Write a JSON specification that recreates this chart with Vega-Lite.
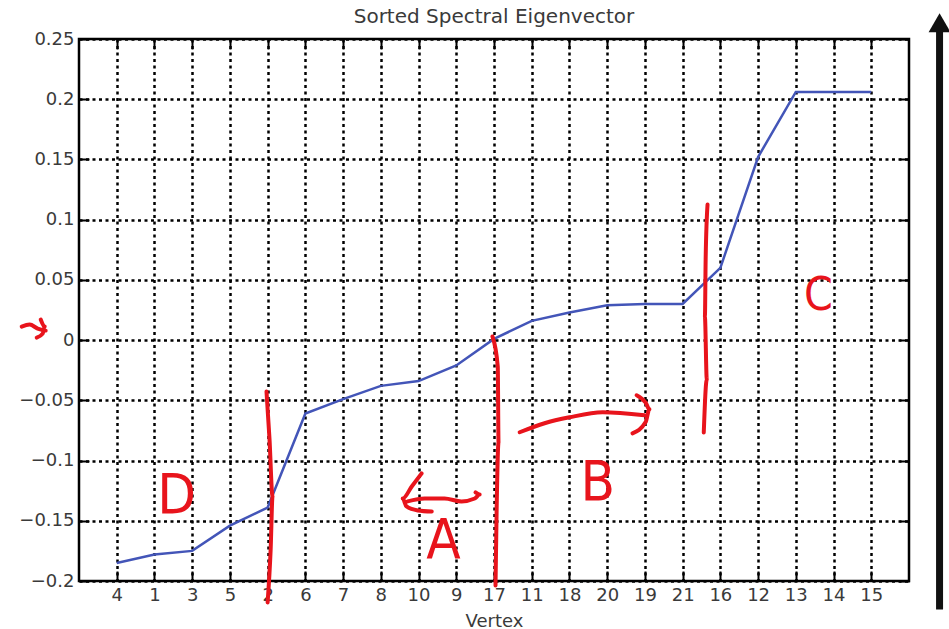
{
  "$schema": "https://vega.github.io/schema/vega-lite/v6.json",
  "width": 830,
  "height": 542,
  "autosize": {"type": "none"},
  "padding": {"left": 79, "top": 39, "right": 40, "bottom": 48},
  "background": "white",
  "title": {"text": "Sorted Spectral Eigenvector", "font": "DejaVu Sans", "fontSize": 20, "fontWeight": "normal", "color": "#3a3a3a", "offset": -14, "anchor": "middle", "frame": "group"},
  "config": {
    "view": {"stroke": "#000", "strokeWidth": 2.5},
    "axis": {"labelFont": "DejaVu Sans", "labelFontSize": 18, "labelColor": "#3a3a3a", "titleFont": "DejaVu Sans", "titleFontSize": 18, "titleFontWeight": "normal", "titleColor": "#3a3a3a", "tickColor": "#000", "tickWidth": 2, "domain": false, "labelOverlap": false}
  },
  "datasets": {
    "eig": [
      {"rank": 1, "vertex": "4", "value": -0.185},
      {"rank": 2, "vertex": "1", "value": -0.178},
      {"rank": 3, "vertex": "3", "value": -0.175},
      {"rank": 4, "vertex": "5", "value": -0.154},
      {"rank": 5, "vertex": "2", "value": -0.139},
      {"rank": 6, "vertex": "6", "value": -0.061},
      {"rank": 7, "vertex": "7", "value": -0.049},
      {"rank": 8, "vertex": "8", "value": -0.038},
      {"rank": 9, "vertex": "10", "value": -0.034},
      {"rank": 10, "vertex": "9", "value": -0.021},
      {"rank": 11, "vertex": "17", "value": 0.001},
      {"rank": 12, "vertex": "11", "value": 0.016},
      {"rank": 13, "vertex": "18", "value": 0.023},
      {"rank": 14, "vertex": "20", "value": 0.029},
      {"rank": 15, "vertex": "19", "value": 0.030},
      {"rank": 16, "vertex": "21", "value": 0.030},
      {"rank": 17, "vertex": "16", "value": 0.060},
      {"rank": 18, "vertex": "12", "value": 0.152},
      {"rank": 19, "vertex": "13", "value": 0.206},
      {"rank": 20, "vertex": "14", "value": 0.206},
      {"rank": 21, "vertex": "15", "value": 0.206}
    ],
    "strokes": [
      {"id": "v2", "seq": 1, "x": 4.97, "y": -0.0427},
      {"id": "v2", "seq": 2, "x": 5.05, "y": -0.0825},
      {"id": "v2", "seq": 3, "x": 5.13, "y": -0.1298},
      {"id": "v2", "seq": 4, "x": 5.08, "y": -0.1738},
      {"id": "v2", "seq": 5, "x": 5.00, "y": -0.2178},
      {"id": "v17", "seq": 1, "x": 10.96, "y": 0.0030},
      {"id": "v17", "seq": 2, "x": 11.10, "y": -0.0220},
      {"id": "v17", "seq": 3, "x": 11.12, "y": -0.0851},
      {"id": "v17", "seq": 4, "x": 11.07, "y": -0.1406},
      {"id": "v17", "seq": 5, "x": 11.04, "y": -0.2037},
      {"id": "v16", "seq": 1, "x": 16.66, "y": 0.1125},
      {"id": "v16", "seq": 2, "x": 16.61, "y": 0.0668},
      {"id": "v16", "seq": 3, "x": 16.59, "y": 0.0195},
      {"id": "v16", "seq": 4, "x": 16.64, "y": -0.0327},
      {"id": "v16", "seq": 5, "x": 16.56, "y": -0.0767},
      {"id": "aShaft", "seq": 1, "x": 8.71, "y": -0.1339},
      {"id": "aShaft", "seq": 2, "x": 9.16, "y": -0.1315},
      {"id": "aShaft", "seq": 3, "x": 9.69, "y": -0.1315},
      {"id": "aShaft", "seq": 4, "x": 10.14, "y": -0.1339},
      {"id": "aShaft", "seq": 5, "x": 10.49, "y": -0.1315},
      {"id": "aShaft", "seq": 6, "x": 10.62, "y": -0.1282},
      {"id": "aShaft", "seq": 7, "x": 10.51, "y": -0.1265},
      {"id": "aHead", "seq": 1, "x": 9.08, "y": -0.1107},
      {"id": "aHead", "seq": 2, "x": 8.82, "y": -0.1215},
      {"id": "aHead", "seq": 3, "x": 8.58, "y": -0.1315},
      {"id": "aHead", "seq": 4, "x": 8.68, "y": -0.1381},
      {"id": "aHead", "seq": 5, "x": 8.98, "y": -0.1414},
      {"id": "aHead", "seq": 6, "x": 9.35, "y": -0.1423},
      {"id": "bShaft", "seq": 1, "x": 11.68, "y": -0.0765},
      {"id": "bShaft", "seq": 2, "x": 12.34, "y": -0.0690},
      {"id": "bShaft", "seq": 3, "x": 13.00, "y": -0.0641},
      {"id": "bShaft", "seq": 4, "x": 13.88, "y": -0.0599},
      {"id": "bShaft", "seq": 5, "x": 14.99, "y": -0.0624},
      {"id": "bHead", "seq": 1, "x": 14.78, "y": -0.0458},
      {"id": "bHead", "seq": 2, "x": 15.02, "y": -0.0520},
      {"id": "bHead", "seq": 3, "x": 15.12, "y": -0.0574},
      {"id": "bHead", "seq": 4, "x": 15.02, "y": -0.0680},
      {"id": "bHead", "seq": 5, "x": 14.67, "y": -0.0774},
      {"id": "tau1", "seq": 1, "x": -1.519, "y": 0.0112},
      {"id": "tau1", "seq": 2, "x": -1.307, "y": 0.0129},
      {"id": "tau1", "seq": 3, "x": -1.095, "y": 0.0096},
      {"id": "tau1", "seq": 4, "x": -0.883, "y": 0.0079},
      {"id": "tau2", "seq": 1, "x": -1.015, "y": 0.0171},
      {"id": "tau2", "seq": 2, "x": -0.909, "y": 0.0112},
      {"id": "tau2", "seq": 3, "x": -0.962, "y": 0.0054},
      {"id": "tau2", "seq": 4, "x": -1.121, "y": 0.0021}
    ],
    "letters": [
      {"label": "D", "x": 2.59, "y": -0.1298},
      {"label": "A", "x": 9.66, "y": -0.167},
      {"label": "B", "x": 13.75, "y": -0.1183}
    ],
    "letterC": [
      {"label": "C", "x": 19.6, "y": 0.0369}
    ],
    "bigarrow": [
      {"x": 22.81, "y": -0.2236, "y2": 0.258, "tip": 0.2635}
    ]
  },
  "layer": [
    {
      "data": {"name": "eig"},
      "mark": {"type": "line", "color": "#4355b8", "strokeWidth": 2.5},
      "encoding": {
        "x": {"field": "rank", "type": "quantitative",
          "scale": {"domain": [0, 22], "nice": false, "zero": false},
          "axis": {"orient": "bottom", "values": [1,2,3,4,5,6,7,8,9,10,11,12,13,14,15,16,17,18,19,20,21],
            "labelExpr": "['4','1','3','5','2','6','7','8','10','9','17','11','18','20','19','21','16','12','13','14','15'][datum.value-1]",
            "grid": true, "gridColor": "#000", "gridDash": [3, 3.5], "gridWidth": 2.5,
            "tickSize": -10, "labelPadding": 15, "title": "Vertex", "titlePadding": 8, "labelFlush": false}},
        "y": {"field": "value", "type": "quantitative",
          "scale": {"domain": [-0.2, 0.25], "nice": false, "zero": false},
          "axis": {"orient": "left", "values": [-0.2, -0.15, -0.1, -0.05, 0, 0.05, 0.1, 0.15, 0.2, 0.25], "format": "~g",
            "grid": true, "gridColor": "#000", "gridDash": [3, 3.5], "gridWidth": 2.5,
            "tickSize": -10, "labelPadding": 15, "title": null, "labelFlush": false}}
      }
    },
    {
      "mark": {"type": "rule", "color": "#e8141c", "strokeWidth": 2.5},
      "encoding": {"y": {"datum": 0, "type": "quantitative", "axis": null}}
    },
    {
      "data": {"name": "strokes"},
      "mark": {"type": "line", "color": "#e8141c", "strokeWidth": 4, "strokeCap": "round", "strokeJoin": "round", "interpolate": "monotone"},
      "encoding": {
        "x": {"field": "x", "type": "quantitative", "axis": null},
        "y": {"field": "y", "type": "quantitative", "axis": null},
        "detail": {"field": "id"},
        "order": {"field": "seq"}
      }
    },
    {
      "data": {"name": "letters"},
      "mark": {"type": "text", "color": "#e8141c", "font": "DejaVu Sans Condensed, DejaVu Sans", "fontSize": 56, "align": "center", "baseline": "middle"},
      "encoding": {
        "x": {"field": "x", "type": "quantitative", "axis": null},
        "y": {"field": "y", "type": "quantitative", "axis": null},
        "text": {"field": "label"}
      }
    },
    {
      "data": {"name": "letterC"},
      "mark": {"type": "text", "color": "#e8141c", "font": "DejaVu Sans Condensed, DejaVu Sans", "fontSize": 46, "align": "center", "baseline": "middle"},
      "encoding": {
        "x": {"field": "x", "type": "quantitative", "axis": null},
        "y": {"field": "y", "type": "quantitative", "axis": null},
        "text": {"field": "label"}
      }
    },
    {
      "data": {"name": "bigarrow"},
      "mark": {"type": "rule", "color": "#111", "strokeWidth": 7},
      "encoding": {
        "x": {"field": "x", "type": "quantitative",
          "axis": {"orient": "top", "values": [1,2,3,4,5,6,7,8,9,10,11,12,13,14,15,16,17,18,19,20,21], "labels": false, "grid": false, "tickSize": -10, "title": null}},
        "y": {"field": "y", "type": "quantitative",
          "axis": {"orient": "right", "values": [-0.2, -0.15, -0.1, -0.05, 0, 0.05, 0.1, 0.15, 0.2, 0.25], "labels": false, "grid": false, "tickSize": -10, "title": null}},
        "y2": {"field": "y2"}
      }
    },
    {
      "data": {"name": "bigarrow"},
      "mark": {"type": "point", "shape": "triangle-up", "filled": true, "color": "#111", "size": 480, "opacity": 1},
      "encoding": {
        "x": {"field": "x", "type": "quantitative", "axis": null},
        "y": {"field": "tip", "type": "quantitative", "axis": null}
      }
    }
  ],
  "resolve": {"axis": {"x": "independent", "y": "independent"}}
}
